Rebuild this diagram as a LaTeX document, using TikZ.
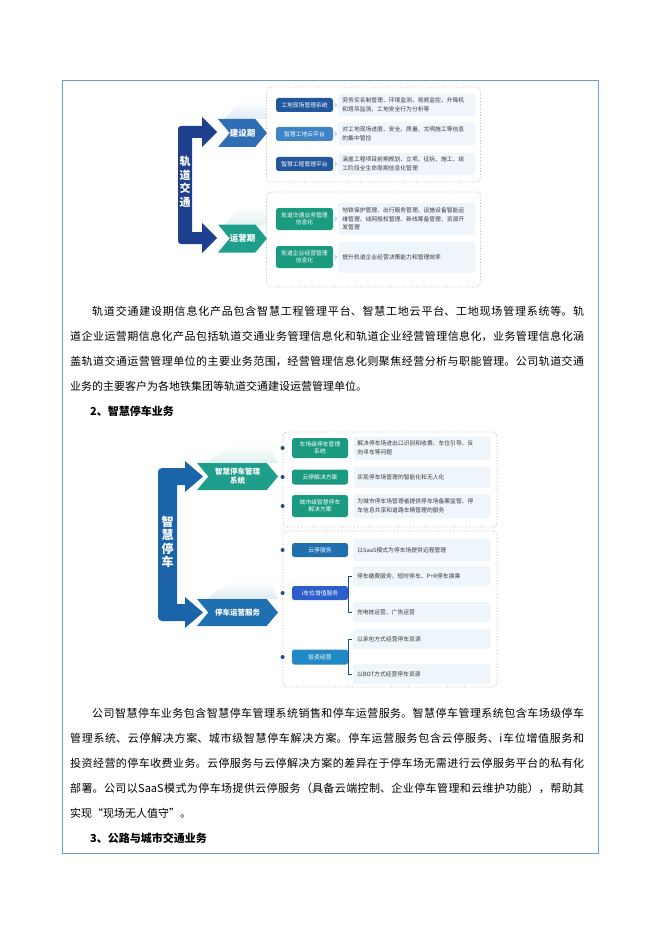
\documentclass[tikz,border=0pt]{standalone}
\usepackage{fontspec}
\setmainfont{Noto Sans CJK SC}
\usetikzlibrary{positioning, calc, shapes.symbols}
\XeTeXlinebreaklocale "zh"
\XeTeXlinebreakskip=0pt plus 1pt
\definecolor{framec}{HTML}{6B9BCF}
\definecolor{navy}{HTML}{1D3F8E}
\definecolor{cblue}{HTML}{2F6EB5}
\definecolor{cteal}{HTML}{1F9E8B}
\definecolor{pdark}{HTML}{22579C}
\definecolor{plight}{HTML}{3F84C5}
\definecolor{pteal}{HTML}{1A9A7E}
\definecolor{panelbg}{HTML}{EEF5FB}
\definecolor{txtgray}{HTML}{3A3A3A}
\definecolor{arrowc}{HTML}{C9D6E4}
\definecolor{brk}{HTML}{1C64AA}
\definecolor{pblue}{HTML}{1F70B0}
\definecolor{proyal}{HTML}{2C5FCB}
\definecolor{pinvest}{HTML}{2389C4}
\definecolor{dotc}{HTML}{1F4E8C}
\begin{document}
\begin{tikzpicture}[x=1pt, y=-1pt,
  pill/.style={rectangle, rounded corners=2.5pt, text=white, minimum width=57pt, inner sep=1pt, align=center, font=\fontsize{5.8}{7}\selectfont},
  panel/.style={rectangle, rounded corners=2pt, fill=panelbg, text=txtgray, text width=129pt, inner xsep=4pt, inner ysep=1pt, align=left, font=\fontsize{5.8}{8.5}\selectfont},
  chev/.style={signal, signal from=west, signal to=east, signal pointer angle=100, text=white, inner sep=0pt, align=center, font=\bfseries\fontsize{8.5}{10}\selectfont},
  glow/.style={top color=white, bottom color=#1!14, draw=none},
  dashbox/.style={draw=gray!60, dotted, thick, rounded corners=4pt, minimum width=214pt},
  para/.style={anchor=base west, inner sep=0pt, text width=514pt, align=justify, font=\fontsize{11}{25}\selectfont},
  head/.style={anchor=base west, inner sep=0pt, font=\bfseries\fontsize{11}{13}\selectfont},
  dot/.style={circle, fill=dotc, inner sep=0pt, minimum size=4pt},
  tick/.style={draw=dotc, line width=0.8pt}
]
\useasboundingbox (0,0) rectangle (662,936);
\draw[framec, line width=0.8pt] (62,80) rectangle (598,853);

% 轨道交通
\shade[glow=cblue] (224,119) -- (242,100) -- (264,100) -- (267,119) -- cycle;
\shade[glow=cteal] (224,225) -- (242,206) -- (264,206) -- (267,225) -- cycle;
\fill[navy] (202,126) -- (202,117) -- (217,132) -- (202,147) -- (202,138) -- (192,138) -- (192,232) -- (202,232) -- (202,223) -- (217,238) -- (202,253) -- (202,244) [rounded corners=3pt] -- (178,244) -- (178,126) [sharp corners] -- cycle;
\node[text=white, align=center, inner sep=0pt, font=\bfseries\fontsize{11}{13.5}\selectfont] (rail) at (185,182) {轨\\道\\交\\通};
\node[chev, fill=cblue, minimum width=49pt, minimum height=28pt] (build) at (242.5,133) {建设期};
\node[chev, fill=cteal, minimum width=49pt, minimum height=28pt] (oper) at (242.5,238.5) {运营期};

\node[dashbox, minimum height=95pt] (boxa) at (373.5,134.5) {};
\node[dashbox, minimum height=95pt] (boxb) at (373.5,239.5) {};

\node[pill, fill=pdark, minimum height=14pt] (a1) at (304.5,105) {工地现场管理系统};
\node[panel, minimum height=22pt, right=5pt of a1] (a1p) {劳务实名制管理、环境监测、视频监控、升降机\\和塔吊监测、工地安全行为分析等};
\node[pill, fill=plight, minimum height=14pt] (a2) at (304.5,134) {智慧工地云平台};
\node[panel, minimum height=23pt, right=5pt of a2] (a2p) {对工地现场进度、安全、质量、文明施工等信息\\的集中管控};
\node[pill, fill=pdark, minimum height=14pt] (a3) at (304.5,164) {智慧工程管理平台};
\node[panel, minimum height=22pt, right=5pt of a3] (a3p) {涵盖工程项目前期规划、立项、征拆、施工、竣\\工阶段全生命周期信息化管理};
\node[pill, fill=pteal, minimum height=22pt] (b1) at (304.5,219) {轨道交通业务管理\\信息化};
\node[panel, minimum height=32pt, right=5pt of b1] (b1p) {地铁保护管理、出行服务管理、设施设备智能运\\维管理、线网授权管理、新线筹备管理、资源开\\发管理};
\node[pill, fill=pteal, minimum height=22pt] (b2) at (304.5,257) {轨道企业经营管理\\信息化};
\node[panel, minimum height=31pt, right=5pt of b2] (b2p) {提升轨道企业经营决策能力和管理效率};
\foreach \p in {a1,a2,a3,b1,b2}
  \fill[arrowc] ($(\p.east)+(1.5,-3)$) -- ++(3,3) -- ++(-3,3) -- cycle;

\node[para] (txta) at (70,315) {\hspace*{2em}轨道交通建设期信息化产品包含智慧工程管理平台、智慧工地云平台、工地现场管理系统等。轨\linebreak
道企业运营期信息化产品包括轨道交通业务管理信息化和轨道企业经营管理信息化，业务管理信息化涵\linebreak
盖轨道交通运营管理单位的主要业务范围，经营管理信息化则聚焦经营分析与职能管理。公司轨道交通\linebreak
业务的主要客户为各地铁集团等轨道交通建设运营管理单位。};
\node[head] (heada) at (90,415) {2、智慧停车业务};

% 智慧停车
\shade[glow=cteal] (206,463) -- (232,444) -- (270,444) -- (278,463) -- cycle;
\shade[glow=pblue] (206,599) -- (232,580) -- (270,580) -- (278,599) -- cycle;
\fill[brk] (185,468) -- (185,461) -- (203,476.5) -- (185,492) -- (185,485) -- (177,485) -- (177,604) -- (185,604) -- (185,597) -- (203,612.5) -- (185,628) -- (185,621) [rounded corners=4pt] -- (158,621) -- (158,468) [sharp corners] -- cycle;
\node[text=white, align=center, inner sep=0pt, font=\bfseries\fontsize{12}{13.5}\selectfont] (park) at (167.5,542) {智\\慧\\停\\车};
\node[chev, fill=cteal, minimum width=81pt, minimum height=27pt, font=\bfseries\fontsize{7.5}{9}\selectfont] (sys) at (237.5,476.5) {智慧停车管理\\系统};
\node[chev, fill=pblue, minimum width=81pt, minimum height=27pt, font=\bfseries\fontsize{7.5}{9}\selectfont] (serv) at (237.5,612.5) {停车运营服务};

\node[dashbox, minimum height=95pt] (boxc) at (390,479.5) {};
\node[dashbox, minimum height=156pt] (boxd) at (390,609) {};

\node[pill, fill=pteal, minimum width=56pt, minimum height=20pt] (c1) at (320,448) {车场级停车管理\\系统};
\node[panel, minimum height=23pt, right=5pt of c1] (c1p) {解决停车场进出口识别和收费、车位引导、反\\向寻车等问题};
\node[pill, fill=pteal, minimum width=56pt, minimum height=15pt] (c2) at (320,477) {云停解决方案};
\node[panel, minimum height=21pt, right=5pt of c2] (c2p) {实现停车场管理的智能化和无人化};
\node[pill, fill=pteal, minimum width=56pt, minimum height=22pt] (c3) at (320,506) {城市级智慧停车\\解决方案};
\node[panel, minimum height=24pt, right=5pt of c3] (c3p) {为城市停车场管理者提供停车场备案监管、停\\车信息共享和道路车辆管理的服务};

\node[pill, fill=pblue, minimum width=56pt, minimum height=14pt] (d1) at (320,550) {云停服务};
\node[panel, minimum height=22pt, right=5pt of d1] (d1p) {以SaaS模式为停车场提供远程管理};
\node[pill, fill=proyal, minimum width=56pt, minimum height=14pt] (d2) at (320,593) {i车位增值服务};
\node[panel, minimum height=20pt] (d2a) at (421.5,576) {停车缴费服务、短时停车、P+R停车换乘};
\node[panel, minimum height=20pt] (d2b) at (421.5,612) {充电桩运营、广告运营};
\node[pill, fill=pinvest, minimum width=56pt, minimum height=15pt] (d3) at (320,657) {投资经营};
\node[panel, minimum height=20pt] (d3a) at (421.5,639) {以承包方式经营停车资源};
\node[panel, minimum height=20pt] (d3b) at (421.5,674) {以BOT方式经营停车资源};
\foreach \p in {d2,d3} {
  \draw[tick] (\p a.west) ++(-1,0) -- ++(-3,0) |- ($(\p b.west)+(-1,0)$);
  \draw[tick] (\p.east) -- ++(1,0);
}
\foreach \p in {c1,c2,c3,d1,d2,d3}
  \node[dot] at (boxc.west |- \p) {};

\node[para] (txtb) at (70,717) {\hspace*{2em}公司智慧停车业务包含智慧停车管理系统销售和停车运营服务。智慧停车管理系统包含车场级停车\linebreak
管理系统、云停解决方案、城市级智慧停车解决方案。停车运营服务包含云停服务、i车位增值服务和\linebreak
投资经营的停车收费业务。云停服务与云停解决方案的差异在于停车场无需进行云停服务平台的私有化\linebreak
部署。公司以SaaS模式为停车场提供云停服务（具备云端控制、企业停车管理和云维护功能），帮助其\linebreak
实现“现场无人值守”。};
\node[head] (headb) at (90,842) {3、公路与城市交通业务};
\end{tikzpicture}
\end{document}
